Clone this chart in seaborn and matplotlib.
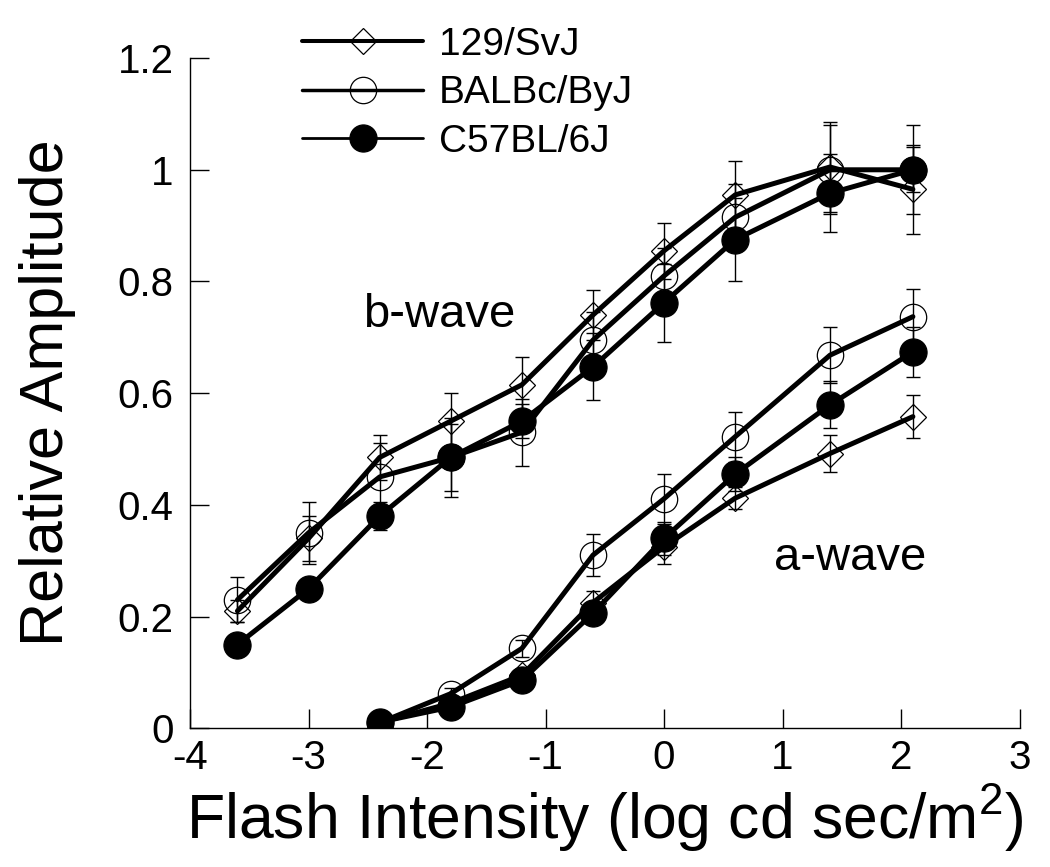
import numpy as np
import pandas as pd
import matplotlib
matplotlib.use("Agg")
import matplotlib.pyplot as plt
from matplotlib.lines import Line2D
import seaborn as sns

# -------------------------
# Data
# -------------------------
strains = ["129/SvJ", "BALBc/ByJ", "C57BL/6J"]

x_b = [-3.6, -3.0, -2.4, -1.8, -1.2, -0.6, 0.0, 0.6, 1.4, 2.1]
x_a = [-2.4, -1.8, -1.2, -0.6, 0.0, 0.6, 1.4, 2.1]

b_129 = [0.21, 0.34, 0.485, 0.55, 0.615, 0.74, 0.855, 0.955, 1.005, 0.965]
b_balb = [0.23, 0.35, 0.45, 0.485, 0.53, 0.695, 0.81, 0.915, 1.0, 1.0]
b_c57 = [0.15, 0.25, 0.38, 0.485, 0.55, 0.647, 0.762, 0.875, 0.958, 1.0]

b_129_err = [0.02, 0.04, 0.04, 0.05, 0.05, 0.045, 0.05, 0.06, 0.08, 0.08]
b_balb_err = [0.04, 0.055, 0.06, 0.06, 0.06, 0.05, 0.05, 0.06, 0.08, 0.08]
b_c57_err = [0.01, 0.01, 0.025, 0.07, 0.03, 0.06, 0.07, 0.075, 0.07, 0.04]

a_129 = [0.01, 0.045, 0.095, 0.225, 0.325, 0.412, 0.492, 0.558]
a_balb = [0.01, 0.062, 0.143, 0.31, 0.411, 0.522, 0.668, 0.737]
a_c57 = [0.011, 0.038, 0.086, 0.206, 0.34, 0.455, 0.579, 0.674]

a_129_err = [0.005, 0.01, 0.01, 0.02, 0.03, 0.02, 0.033, 0.038]
a_balb_err = [0.005, 0.01, 0.015, 0.037, 0.045, 0.045, 0.05, 0.05]
a_c57_err = [0.005, 0.01, 0.01, 0.015, 0.03, 0.03, 0.042, 0.045]

x_ticks = [-4, -3, -2, -1, 0, 1, 2, 3]
y_ticks = [0, 0.2, 0.4, 0.6, 0.8, 1.0, 1.2]

# -------------------------
# Style
# -------------------------
sns.set_style("ticks")
plt.rcParams["font.family"] = ["Liberation Sans", "DejaVu Sans"]
plt.rcParams["mathtext.fontset"] = "custom"
plt.rcParams["mathtext.rm"] = "Liberation Sans"
plt.rcParams["mathtext.it"] = "Liberation Sans:italic"
plt.rcParams["axes.unicode_minus"] = False
plt.rcParams["text.color"] = "black"
plt.rcParams["axes.labelcolor"] = "black"
plt.rcParams["xtick.color"] = "black"
plt.rcParams["ytick.color"] = "black"

marker_style = {
    "129/SvJ": dict(marker="D", markersize=13.5, markerfacecolor="none",
                    markeredgecolor="black", markeredgewidth=0.9),
    "BALBc/ByJ": dict(marker="o", markersize=19, markerfacecolor="none",
                      markeredgecolor="black", markeredgewidth=0.9),
    "C57BL/6J": dict(marker="o", markersize=19.5, markerfacecolor="black",
                     markeredgecolor="black", markeredgewidth=0.9),
}

series = [
    ("129/SvJ", x_b, b_129, b_129_err), ("BALBc/ByJ", x_b, b_balb, b_balb_err),
    ("C57BL/6J", x_b, b_c57, b_c57_err),
    ("129/SvJ", x_a, a_129, a_129_err), ("BALBc/ByJ", x_a, a_balb, a_balb_err),
    ("C57BL/6J", x_a, a_c57, a_c57_err),
]

fig = plt.figure(figsize=(10.5, 8.67), dpi=100)
ax = fig.add_axes([0.181, 0.160, 0.790, 0.773])

for name, xs, ys, errs in series:
    df = pd.DataFrame({"x": xs, "y": ys})
    ax.errorbar(xs, ys, yerr=errs, fmt="none", ecolor="black",
                elinewidth=1.0, capsize=4.7, capthick=1.0, zorder=2)
    sns.lineplot(data=df, x="x", y="y", ax=ax, color="black", linewidth=3.6,
                 errorbar=None, legend=False, zorder=3, **marker_style[name])

# -------------------------
# Axes
# -------------------------
ax.set_xlim(-4, 3)
ax.set_ylim(0, 1.2)
ax.set_xticks(x_ticks)
ax.set_yticks(y_ticks)
ax.set_yticklabels([f"{v:g}" for v in y_ticks])
ax.tick_params(direction="in", length=14, width=1.0, labelsize=29, color="black",
               labelcolor="black")
ax.tick_params(axis="y", pad=12)
ax.tick_params(axis="x", pad=8)
sns.despine(ax=ax)
for s in ["left", "bottom"]:
    ax.spines[s].set_linewidth(1.0)
    ax.spines[s].set_color("black")

ax.set_ylabel("Relative Amplitude", fontsize=44, labelpad=30, color="black")
ax.set_xlabel("Flash Intensity (log cd sec/m$^2$)", fontsize=45, labelpad=4,
              color="black")

ax.text(-1.9, 0.74, "b-wave", fontsize=34, ha="center", va="center", color="black")
ax.text(1.57, 0.305, "a-wave", fontsize=34, ha="center", va="center", color="black")

# -------------------------
# Legend
# -------------------------
legend_lw = {"129/SvJ": 2.9, "BALBc/ByJ": 2.5, "C57BL/6J": 2.0}
handles = [Line2D([0], [0], color="black", linewidth=legend_lw[n], **marker_style[n])
           for n in strains]
leg = fig.legend(handles, strains, loc="upper left", bbox_to_anchor=(0.288, 0.969),
                 frameon=False, fontsize=28, handlelength=3.1, handletextpad=0.4,
                 labelspacing=0.32, borderpad=0, borderaxespad=0)
for t in leg.get_texts():
    t.set_color("black")

fig.savefig("out.png", dpi=100)
